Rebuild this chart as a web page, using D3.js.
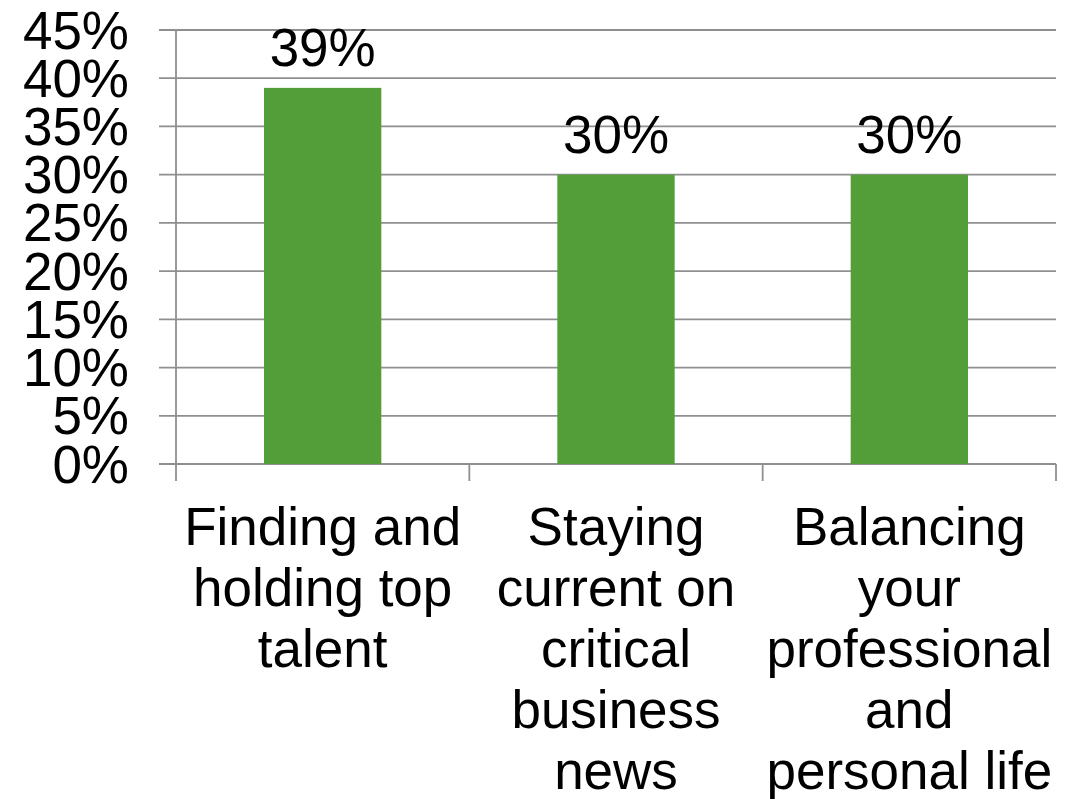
<!DOCTYPE html>
<html>
<head>
<meta charset="utf-8">
<script src="https://cdn.jsdelivr.net/npm/d3@7"></script>
<style>
  html, body { margin: 0; padding: 0; background: #fff; }
  svg { display: block; }
  text { font-family: "Liberation Sans", Arial, sans-serif; fill: #000; }
</style>
</head>
<body>
<svg id="chart" width="1066" height="799"></svg>
<script>
// Survey results: share of respondents naming each challenge
const categories = [
  ["Finding and", "holding top", "talent"],
  ["Staying", "current on", "critical", "business", "news"],
  ["Balancing", "your", "professional", "and", "personal life"]
];
const values = [39, 30, 30];
const yTicks = [0, 5, 10, 15, 20, 25, 30, 35, 40, 45];

const W = 1066, H = 799;
const margin = { left: 176, right: 10, top: 30, bottom: 335 };
const svg = d3.select("#chart");

const x = d3.scaleBand()
  .domain(d3.range(categories.length))
  .range([margin.left, W - margin.right])
  .padding(0);

const y = d3.scaleLinear()
  .domain([0, 45])
  .range([H - margin.bottom, margin.top]);

const gridColor = "#8f8f8f";
const fontSize = 53;

// horizontal gridlines, extending left as tick marks
svg.append("g")
  .selectAll("line")
  .data(yTicks)
  .join("line")
  .attr("x1", margin.left - 17)
  .attr("x2", W - margin.right)
  .attr("y1", d => y(d))
  .attr("y2", d => y(d))
  .attr("stroke", gridColor)
  .attr("stroke-width", 1.8);

// y axis line
svg.append("line")
  .attr("x1", margin.left).attr("x2", margin.left)
  .attr("y1", y(45)).attr("y2", y(0) + 17)
  .attr("stroke", gridColor)
  .attr("stroke-width", 1.8);

// x category separators
const seps = d3.range(1, categories.length + 1).map(i => margin.left + i * x.step());
svg.append("g")
  .selectAll("line")
  .data(seps)
  .join("line")
  .attr("x1", d => d).attr("x2", d => d)
  .attr("y1", y(0)).attr("y2", y(0) + 17)
  .attr("stroke", gridColor)
  .attr("stroke-width", 1.8);

// y tick labels
svg.append("g")
  .selectAll("text")
  .data(yTicks)
  .join("text")
  .attr("x", margin.left - 47)
  .attr("y", d => y(d))
  .attr("dy", "0.35em")
  .attr("text-anchor", "end")
  .attr("font-size", fontSize)
  .text(d => d + "%");

// bars
const barW = x.bandwidth() * 0.4;
svg.append("g")
  .selectAll("rect")
  .data(values)
  .join("rect")
  .attr("x", (d, i) => x(i) + (x.bandwidth() - barW) / 2)
  .attr("y", d => y(d))
  .attr("width", barW)
  .attr("height", d => y(0) - y(d))
  .attr("fill", "#549E39");

// value labels
svg.append("g")
  .selectAll("text")
  .data(values)
  .join("text")
  .attr("x", (d, i) => x(i) + x.bandwidth() / 2)
  .attr("y", d => y(d) - 22)
  .attr("text-anchor", "middle")
  .attr("font-size", fontSize)
  .text(d => d + "%");

// category labels
const lineH = 61;
categories.forEach((lines, i) => {
  const t = svg.append("text")
    .attr("text-anchor", "middle")
    .attr("font-size", fontSize);
  lines.forEach((ln, j) => {
    t.append("tspan")
      .attr("x", x(i) + x.bandwidth() / 2)
      .attr("y", 545 + j * lineH)
      .text(ln);
  });
});
</script>
</body>
</html>
